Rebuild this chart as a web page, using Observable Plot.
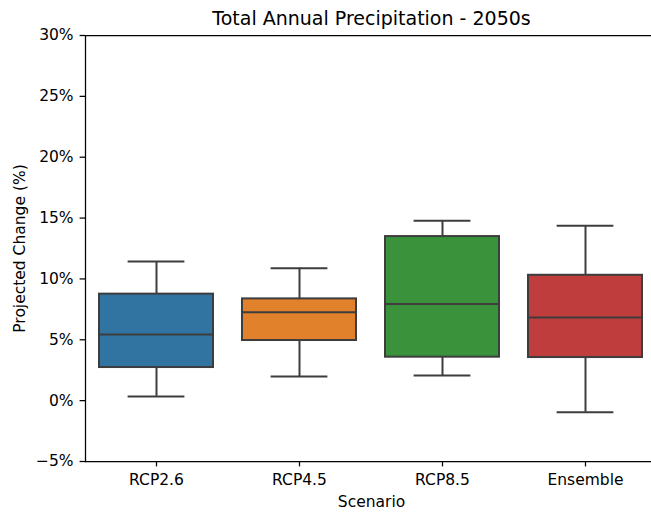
<!DOCTYPE html>
<html>
<head>
<meta charset="utf-8">
<script src="https://cdn.jsdelivr.net/npm/d3@7"></script>
<script src="https://cdn.jsdelivr.net/npm/@observablehq/plot@0.6"></script>
<style>
  html, body { margin: 0; padding: 0; background: #fff; overflow: hidden; }
</style>
</head>
<body>
<div id="chart"></div>
<script>
const scenarios = ["RCP2.6", "RCP4.5", "RCP8.5", "Ensemble"];
const whiskerLow  = [0.35, 1.98, 2.06, -0.95];
const q1          = [2.72, 4.94, 3.57, 3.54];
const median      = [5.43, 7.26, 7.95, 6.83];
const q3          = [8.75, 8.36, 13.48, 10.30];
const whiskerHigh = [11.43, 10.88, 14.77, 14.36];
const colors      = ["#3274a1", "#e1812c", "#3a923a", "#c03d3e"];
const yTicks      = [-5, 0, 5, 10, 15, 20, 25, 30];

const title = "Total Annual Precipitation - 2050s";
const xLabel = "Scenario";
const yLabel = "Projected Change (%)";

const rows = scenarios.map((s, i) => ({
  scenario: s, lo: whiskerLow[i], q1: q1[i], med: median[i], q3: q3[i], hi: whiskerHigh[i], color: colors[i]
}));

const line = "#3d3d3d";
const fmt = d => (d < 0 ? "\u2212" : "") + Math.abs(d) + "%";

const chart = Plot.plot({
  width: 651,
  height: 514,
  marginTop: 35,
  marginBottom: 53,
  marginLeft: 85,
  marginRight: -6,
  style: { fontFamily: "DejaVu Sans", fontSize: "15.5px", background: "#fff", color: "#000" },
  x: { domain: scenarios, range: [85, 657], paddingInner: 0.2, paddingOuter: 0.1, align: 0.5 },
  y: { domain: [-5, 30] },
  marks: [
    Plot.ruleX(rows, { x: "scenario", y1: "lo", y2: "hi", stroke: line, strokeWidth: 2 }),
    Plot.tickY(rows, { x: "scenario", y: "lo", stroke: line, strokeWidth: 2, inset: 28.6 }),
    Plot.tickY(rows, { x: "scenario", y: "hi", stroke: line, strokeWidth: 2, inset: 28.6 }),
    Plot.barY(rows, { x: "scenario", y1: "q1", y2: "q3", fill: "color", stroke: line, strokeWidth: 2 }),
    Plot.tickY(rows, { x: "scenario", y: "med", stroke: line, strokeWidth: 2 }),
    Plot.frame({ anchor: "top", stroke: "#000", strokeWidth: 1.25 }),
    Plot.frame({ anchor: "left", stroke: "#000", strokeWidth: 1.25 }),
    Plot.frame({ anchor: "bottom", stroke: "#000", strokeWidth: 1.25 }),
    Plot.axisY(yTicks, { tickSize: 5.4, tickPadding: 6.5, fontSize: 15.5, tickFormat: fmt, label: null, stroke: "#000", strokeWidth: 1.25 }),
    Plot.axisX({ tickSize: 5.4, tickPadding: 7, fontSize: 15.5, label: null, stroke: "#000", strokeWidth: 1.25 }),
    Plot.text([title], { frameAnchor: "top", lineAnchor: "middle", dy: -16.6, fontSize: 19, fill: "#000" }),
    Plot.text([xLabel], { frameAnchor: "bottom", lineAnchor: "middle", dy: 40.5, fontSize: 15.5, fill: "#000" }),
    Plot.text([yLabel], { frameAnchor: "left", dx: -65, rotate: -90, textAnchor: "middle", fontSize: 15.5, fill: "#000" })
  ]
});
document.getElementById("chart").appendChild(chart);
</script>
</body>
</html>
